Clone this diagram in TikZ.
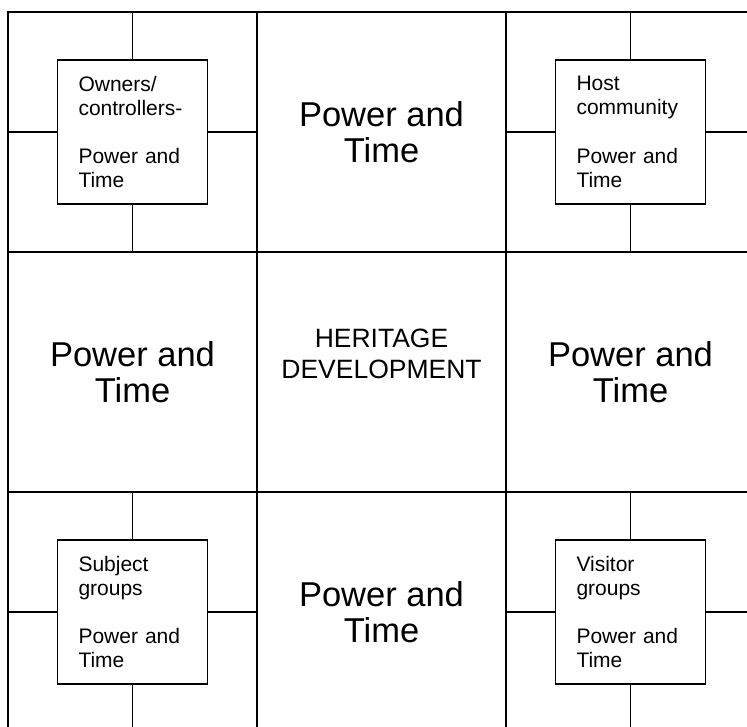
\documentclass[tikz,border=0pt]{standalone}
\usepackage{fontspec}
\setmainfont{Liberation Sans}

\begin{document}
\begin{tikzpicture}[x=1pt, y=-1pt,
    cell/.style={draw, line width=1.8pt, minimum width=249pt, minimum height=240pt, inner sep=0pt},
    bigtext/.style={align=center, font=\fontsize{34.5}{36.5}\selectfont},
    groupbox/.style={draw, fill=white, line width=1.8pt, minimum width=150pt, minimum height=144pt, text width=108pt, inner xsep=21pt, inner ysep=0pt, align=left, font=\fontsize{21}{24.2}\selectfont},
    link/.style={line width=1.8pt}]
    \useasboundingbox (0,0) rectangle (747,727);

    % Grid of cells
    \node[cell] (cellTL) at (132.5,132) {};
    \node[cell, bigtext] (cellTM) at (381.5,132) {Power and\\Time};
    \node[cell] (cellTR) at (630.5,132) {};
    \node[cell, bigtext] (cellML) at (132.5,372) {Power and\\Time};
    \node[cell] (cellMM) at (381.5,372) {};
    \node[cell, bigtext] (cellMR) at (630.5,372) {Power and\\Time};
    \node[cell] (cellBL) at (132.5,612) {};
    \node[cell, bigtext] (cellBM) at (381.5,612) {Power and\\Time};
    \node[cell] (cellBR) at (630.5,612) {};

    % Centre
    \node[align=center, font=\fontsize{26.5}{31.7}\selectfont] (heritage) at (381.5,354) {HERITAGE\\DEVELOPMENT};

    % Groups
    \node[groupbox] (owners) at (cellTL) {Owners/\\controllers-\\[24.2pt]Power and\\Time};
    \node[groupbox] (host) at (cellTR) {Host\\community\\[24.2pt]Power and\\Time};
    \node[groupbox] (subject) at (cellBL) {Subject\\groups\\[24.2pt]Power and\\Time};
    \node[groupbox] (visitor) at (cellBR) {Visitor\\groups\\[24.2pt]Power and\\Time};

    % Links from each group to its cell
    \foreach \g/\c in {owners/cellTL, host/cellTR, subject/cellBL, visitor/cellBR} {
        \draw[link] (\g.north) -- (\c.north);
        \draw[link] (\g.south) -- (\c.south);
        \draw[link] (\g.west) -- (\c.west);
        \draw[link] (\g.east) -- (\c.east);
    }
\end{tikzpicture}
\end{document}
